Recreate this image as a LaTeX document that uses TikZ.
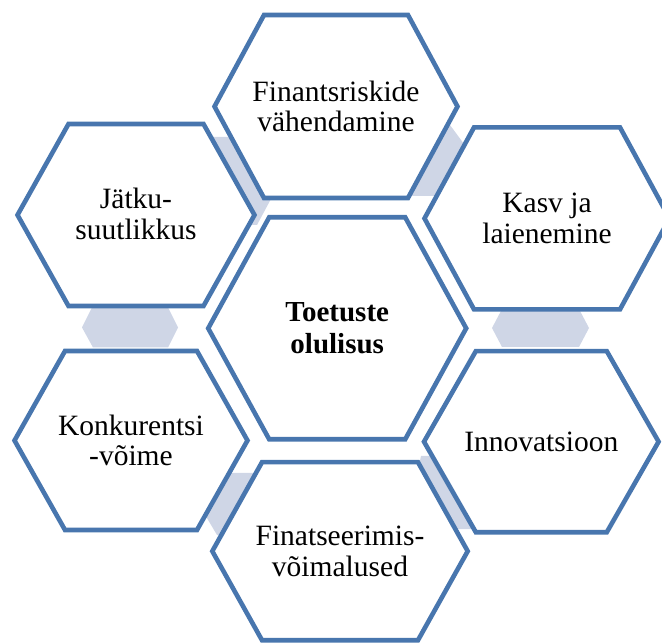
\documentclass[tikz,border=0pt]{standalone}
\usepackage{fontspec}
\setmainfont{Liberation Serif}
\definecolor{hexblue}{RGB}{72,118,174}
\definecolor{hexgray}{RGB}{207,214,230}
\tikzset{
  hexline/.style={draw=hexblue, line width=4.6pt, fill=white},
  linkfill/.style={fill=hexgray, draw=none},
  outertext/.style={align=center, inner sep=0pt, font=\fontsize{29.5}{30.5}\selectfont},
  centertext/.style={align=center, inner sep=0pt, font=\fontsize{29}{31.7}\selectfont\bfseries},
}
% hexagon: centre (#1,#2), half width #3, half top edge #4, half height #5
\newcommand\hexoutline[5]{%
  \draw[hexline, shift={(#1,#2)}] (-#3,0) -- (-#4,-#5) -- (#4,-#5) -- (#3,0) -- (#4,#5) -- (-#4,#5) -- cycle;}
\begin{document}
\begin{tikzpicture}[x=1pt, y=-1pt]
\useasboundingbox (0,0) rectangle (662,644);
% connector shapes
\fill[linkfill] (82,327.5) -- (92,307.5) -- (168,307.5) -- (178,327.5) -- (168,347.5) -- (93,347.5) -- cycle;
\fill[linkfill] (492,328) -- (502,309) -- (579,309) -- (589,328) -- (579,347) -- (502,347) -- cycle;
\fill[linkfill] (205,137) -- (236,137) -- (272,197) -- (257,225) -- (245,225) -- cycle;
\fill[linkfill] (436,106) -- (478,163) -- (446,196) -- (400,196) -- (400,150) -- cycle;
\fill[linkfill] (226,473) -- (262,473) -- (230,535) -- (217,535) -- (198,503) -- cycle;
\fill[linkfill] (421,456) -- (445,456) -- (490,529) -- (440,529) -- (418,470) -- cycle;
% hexagons
\hexoutline{336}{106.5}{121.5}{72}{91.5}
\hexoutline{136}{215}{118.5}{67.5}{91}
\hexoutline{547}{218.4}{122.5}{73}{91}
\hexoutline{131}{440.5}{116.5}{66}{89.5}
\hexoutline{541.3}{441.7}{117.3}{65.5}{90.5}
\hexoutline{340}{551.2}{127.7}{78}{89}
\hexoutline{337.2}{328.3}{129}{68}{111}
% texts
\node[outertext] (fin) at (336,106.5) {Finantsriskide\\vähendamine};
\node[outertext] (jat) at (136,214) {Jätku-\\suutlikkus};
\node[outertext] (kas) at (547,218.4) {Kasv ja\\laienemine};
\node[outertext] (kon) at (131,440.5) {Konkurentsi\\-võime};
\node[outertext] (inn) at (541.3,441.7) {Innovatsioon};
\node[outertext] (fina) at (340,551.2) {Finatseerimis-\\võimalused};
\node[centertext] (ctr) at (337.2,328.3) {Toetuste\\olulisus};
\end{tikzpicture}
\end{document}
